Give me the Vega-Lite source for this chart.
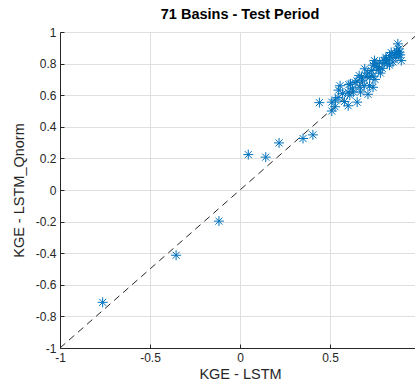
{
  "$schema": "https://vega.github.io/schema/vega-lite/v6.json",
  "width": 360,
  "height": 316,
  "autosize": {"type": "none"},
  "padding": {"left": 60, "top": 32, "right": 0, "bottom": 41},
  "background": "white",
  "title": {"text": "71 Basins - Test Period", "font": "Liberation Sans", "fontSize": 14.5, "fontWeight": "bold", "color": "#000000", "anchor": "middle", "offset": 4},
  "config": {
    "view": {"stroke": "#262626", "strokeWidth": 1},
    "axis": {
      "domainColor": "#262626", "tickColor": "#262626", "labelColor": "#262626", "titleColor": "#262626",
      "gridColor": "#dfdfdf", "labelFont": "Liberation Sans", "titleFont": "Liberation Sans",
      "labelFontSize": 12, "titleFontSize": 14.5, "titleFontWeight": "normal",
      "labelFlush": false, "labelOverlap": false, "tickSize": -4
    }
  },
  "datasets": {
    "diag": [{"lstm": -1, "qnorm": -1, "lstm2": 1, "qnorm2": 1}],
    "pts": [
      {"lstm": -0.763, "qnorm": -0.711},
      {"lstm": -0.355, "qnorm": -0.413},
      {"lstm": -0.117, "qnorm": -0.197},
      {"lstm": 0.046, "qnorm": 0.224},
      {"lstm": 0.143, "qnorm": 0.208},
      {"lstm": 0.217, "qnorm": 0.298},
      {"lstm": 0.35, "qnorm": 0.326},
      {"lstm": 0.405, "qnorm": 0.349},
      {"lstm": 0.441, "qnorm": 0.553},
      {"lstm": 0.51, "qnorm": 0.556},
      {"lstm": 0.51, "qnorm": 0.5},
      {"lstm": 0.528, "qnorm": 0.527},
      {"lstm": 0.548, "qnorm": 0.632},
      {"lstm": 0.545, "qnorm": 0.585},
      {"lstm": 0.556, "qnorm": 0.66},
      {"lstm": 0.601, "qnorm": 0.533},
      {"lstm": 0.61, "qnorm": 0.6},
      {"lstm": 0.605, "qnorm": 0.667},
      {"lstm": 0.614, "qnorm": 0.671},
      {"lstm": 0.625, "qnorm": 0.64},
      {"lstm": 0.651, "qnorm": 0.556},
      {"lstm": 0.662, "qnorm": 0.724},
      {"lstm": 0.666, "qnorm": 0.65},
      {"lstm": 0.64, "qnorm": 0.68},
      {"lstm": 0.675, "qnorm": 0.713},
      {"lstm": 0.68, "qnorm": 0.69},
      {"lstm": 0.693, "qnorm": 0.767},
      {"lstm": 0.711, "qnorm": 0.606},
      {"lstm": 0.72, "qnorm": 0.66},
      {"lstm": 0.721, "qnorm": 0.713},
      {"lstm": 0.73, "qnorm": 0.756},
      {"lstm": 0.739, "qnorm": 0.65},
      {"lstm": 0.747, "qnorm": 0.819},
      {"lstm": 0.749, "qnorm": 0.8},
      {"lstm": 0.76, "qnorm": 0.78},
      {"lstm": 0.776, "qnorm": 0.808},
      {"lstm": 0.78, "qnorm": 0.74},
      {"lstm": 0.79, "qnorm": 0.77},
      {"lstm": 0.8, "qnorm": 0.82},
      {"lstm": 0.813, "qnorm": 0.829},
      {"lstm": 0.82, "qnorm": 0.8},
      {"lstm": 0.831, "qnorm": 0.851},
      {"lstm": 0.831, "qnorm": 0.79},
      {"lstm": 0.845, "qnorm": 0.835},
      {"lstm": 0.859, "qnorm": 0.862},
      {"lstm": 0.866, "qnorm": 0.84},
      {"lstm": 0.886, "qnorm": 0.872},
      {"lstm": 0.877, "qnorm": 0.925},
      {"lstm": 0.883, "qnorm": 0.893},
      {"lstm": 0.896, "qnorm": 0.819},
      {"lstm": 0.89, "qnorm": 0.855},
      {"lstm": 0.87, "qnorm": 0.88},
      {"lstm": 0.6, "qnorm": 0.62},
      {"lstm": 0.58, "qnorm": 0.56},
      {"lstm": 0.63, "qnorm": 0.62},
      {"lstm": 0.7, "qnorm": 0.72},
      {"lstm": 0.71, "qnorm": 0.74},
      {"lstm": 0.74, "qnorm": 0.72},
      {"lstm": 0.77, "qnorm": 0.76},
      {"lstm": 0.8, "qnorm": 0.8},
      {"lstm": 0.85, "qnorm": 0.81},
      {"lstm": 0.69, "qnorm": 0.66},
      {"lstm": 0.65, "qnorm": 0.69},
      {"lstm": 0.57, "qnorm": 0.61},
      {"lstm": 0.53, "qnorm": 0.57},
      {"lstm": 0.74, "qnorm": 0.79},
      {"lstm": 0.81, "qnorm": 0.84},
      {"lstm": 0.84, "qnorm": 0.87},
      {"lstm": 0.88, "qnorm": 0.86},
      {"lstm": 0.75, "qnorm": 0.7},
      {"lstm": 0.67, "qnorm": 0.62}
    ]
  },
  "encoding": {
    "x": {"field": "lstm", "type": "quantitative", "scale": {"domain": [-1, 1], "nice": false},
      "axis": {"values": [-1, -0.5, 0, 0.5], "labelExpr": "'' + datum.value", "title": "KGE - LSTM", "labelPadding": 8, "titlePadding": 4}},
    "y": {"field": "qnorm", "type": "quantitative", "scale": {"domain": [-1, 1], "nice": false},
      "axis": {"values": [-1, -0.8, -0.6, -0.4, -0.2, 0, 0.2, 0.4, 0.6, 0.8, 1], "labelExpr": "'' + datum.value", "title": "KGE - LSTM_Qnorm", "labelPadding": 8, "titlePadding": 9}}
  },
  "layer": [
    {
      "data": {"name": "diag"},
      "mark": {"type": "rule", "color": "#262626", "strokeWidth": 1, "strokeDash": [7, 5], "clip": true},
      "encoding": {
        "x2": {"field": "lstm2"},
        "y2": {"field": "qnorm2"}
      }
    },
    {
      "data": {"name": "pts"},
      "mark": {"type": "point", "shape": "M-1,0L1,0M0,-1L0,1M-0.7,-0.7L0.7,0.7M-0.7,0.7L0.7,-0.7", "filled": false, "stroke": "#0072BD", "strokeWidth": 1, "size": 100, "opacity": 1}
    }
  ]
}
